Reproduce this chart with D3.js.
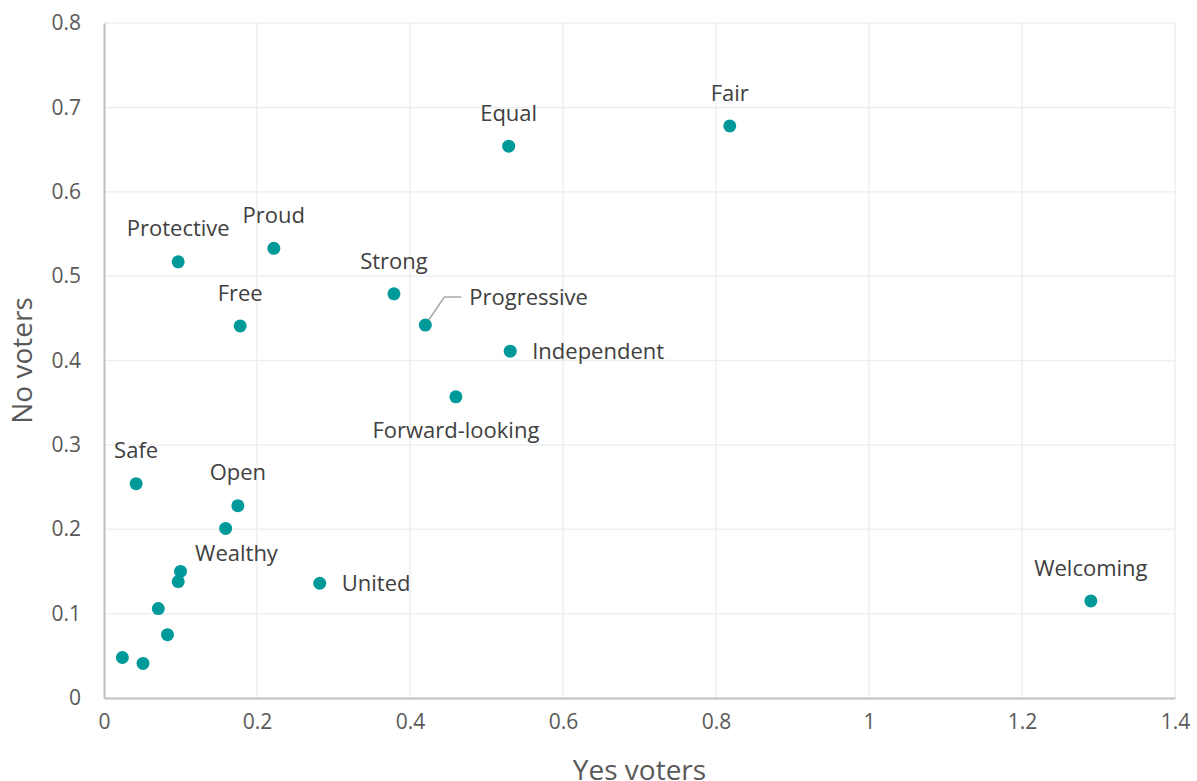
<!DOCTYPE html>
<html>
<head>
<meta charset="utf-8">
<script src="https://cdn.jsdelivr.net/npm/d3@7"></script>
<style>
  body { margin: 0; background: #fff; }
  svg { display: block; font-family: "Open Sans", sans-serif; }
</style>
</head>
<body>
<svg></svg>
<script>
//	data
var words = ["Fair", "Equal", "Proud", "Protective", "Strong", "Free", "Progressive", "Independent",
    "Forward-looking", "Safe", "Open", "", "Wealthy", "", "", "", "", "", "United", "Welcoming"];
var yesVoters = [0.818, 0.529, 0.222, 0.097, 0.379, 0.178, 0.420, 0.531,
    0.460, 0.042, 0.175, 0.159, 0.100, 0.097, 0.071, 0.083, 0.024, 0.051, 0.282, 1.290];
var noVoters = [0.678, 0.654, 0.533, 0.517, 0.479, 0.441, 0.442, 0.411,
    0.357, 0.254, 0.228, 0.201, 0.150, 0.138, 0.106, 0.075, 0.048, 0.041, 0.136, 0.115];
var xTicks = [0, 0.2, 0.4, 0.6, 0.8, 1, 1.2, 1.4];
var yTicks = [0, 0.1, 0.2, 0.3, 0.4, 0.5, 0.6, 0.7, 0.8];

//	label placement (offset from point, anchor)
var placement = {
    "Independent": {dx: 22, dy: 0, anchor: "start"},
    "United": {dx: 22, dy: 0, anchor: "start"},
    "Forward-looking": {dx: 0, dy: 34, anchor: "middle"},
    "Wealthy": {dx: 56, dy: -18, anchor: "middle"},
    "Progressive": {dx: 44, dy: -28, anchor: "start", leader: true}
};

var width = 1197, height = 781;
var margin = {left: 104, right: 22, top: 23, bottom: 83};

var svg = d3.select("svg").attr("width", width).attr("height", height);

var x = d3.scaleLinear().domain([0, 1.4]).range([margin.left, width - margin.right]);
var y = d3.scaleLinear().domain([0, 0.8]).range([height - margin.bottom, margin.top]);

var points = words.map(function(w, i) { return {name: w, x: yesVoters[i], y: noVoters[i]}; });

//	gridlines
svg.append("g").selectAll("line").data(xTicks.slice(1)).enter().append("line")
    .attr("x1", function(d) { return x(d); }).attr("x2", function(d) { return x(d); })
    .attr("y1", y(0)).attr("y2", y(0.8))
    .attr("stroke", "#efefef").attr("stroke-width", 1.5);
svg.append("g").selectAll("line").data(yTicks.slice(1)).enter().append("line")
    .attr("y1", function(d) { return y(d); }).attr("y2", function(d) { return y(d); })
    .attr("x1", x(0)).attr("x2", x(1.4))
    .attr("stroke", "#efefef").attr("stroke-width", 1.5);

//	axes
var fmt = function(d) { return d3.format("")(+d.toFixed(1)); };
var xAxis = svg.append("g").attr("transform", "translate(0," + y(0) + ")")
    .call(d3.axisBottom(x).tickValues(xTicks).tickSize(0).tickPadding(16).tickFormat(fmt));
var yAxis = svg.append("g").attr("transform", "translate(" + x(0) + ",0)")
    .call(d3.axisLeft(y).tickValues(yTicks).tickSize(0).tickPadding(23).tickFormat(fmt));
[xAxis, yAxis].forEach(function(a) {
    a.select(".domain").attr("stroke", "#bfbfbf").attr("stroke-width", 2);
    a.selectAll("text").attr("fill", "#595959").style("font-size", "21px").style("font-family", "'Open Sans', sans-serif");
});

//	axis titles
svg.append("text").attr("x", (x(0) + x(1.4)) / 2).attr("y", 780)
    .attr("text-anchor", "middle").attr("fill", "#595959").style("font-size", "28px")
    .text("Yes voters");
svg.append("text").attr("transform", "translate(32," + y(0.4) + ") rotate(-90)")
    .attr("text-anchor", "middle").attr("fill", "#595959").style("font-size", "28px")
    .text("No voters");

//	leader lines
points.filter(function(d) { return placement[d.name] && placement[d.name].leader; }).forEach(function(d) {
    var p = placement[d.name];
    svg.append("polyline")
        .attr("points", [[x(d.x), y(d.y)], [x(d.x) + 19, y(d.y) + p.dy], [x(d.x) + 36, y(d.y) + p.dy]]
            .map(function(q) { return q.join(","); }).join(" "))
        .attr("fill", "none").attr("stroke", "#a6a6a6").attr("stroke-width", 1.5);
});

//	points
svg.append("g").selectAll("circle").data(points).enter().append("circle")
    .attr("cx", function(d) { return x(d.x); })
    .attr("cy", function(d) { return y(d.y); })
    .attr("r", 6.5)
    .attr("fill", "#009999");

//	labels
svg.append("g").selectAll("text").data(points.filter(function(d) { return d.name; })).enter().append("text")
    .attr("x", function(d) { var p = placement[d.name]; return x(d.x) + (p ? p.dx : 0); })
    .attr("y", function(d) { var p = placement[d.name]; return y(d.y) + (p ? p.dy : -33); })
    .attr("dy", "0.35em")
    .attr("text-anchor", function(d) { var p = placement[d.name]; return p ? p.anchor : "middle"; })
    .attr("fill", "#404040")
    .style("font-size", "22px")
    .text(function(d) { return d.name; });
</script>
</body>
</html>
